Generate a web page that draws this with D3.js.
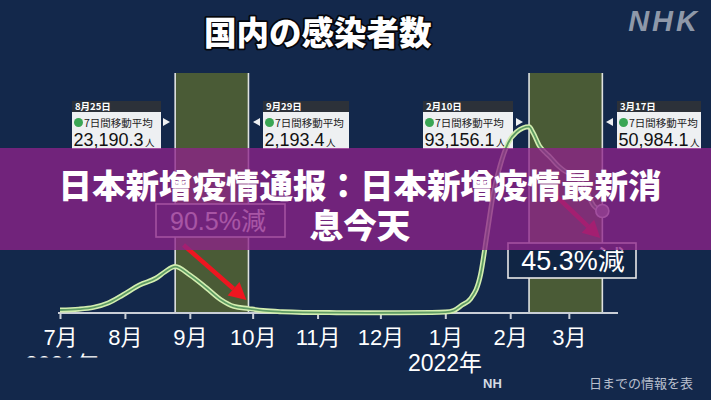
<!DOCTYPE html>
<html><head><meta charset="utf-8">
<script src="https://cdn.jsdelivr.net/npm/d3@7"></script>
<style>html,body{margin:0;padding:0;background:#13284b;}svg{display:block;}</style>
</head><body>
<script>
// ---------- DATA ----------
const dates  = ["2021-07-01","2021-07-10","2021-07-17","2021-07-24","2021-07-31","2021-08-08","2021-08-16","2021-08-20","2021-08-25",
                "2021-09-01","2021-09-09","2021-09-16","2021-09-22","2021-09-29","2021-10-06","2021-10-15","2021-10-25",
                "2021-11-10","2021-11-25","2021-12-10","2021-12-25","2022-01-01","2022-01-05","2022-01-09","2022-01-13",
                "2022-01-18","2022-01-21","2022-01-24","2022-01-27","2022-01-31","2022-02-04","2022-02-10","2022-02-12",
                "2022-02-15","2022-02-18","2022-02-20","2022-02-24","2022-02-27","2022-03-02","2022-03-07","2022-03-10",
                "2022-03-13","2022-03-17"];
const values = [1500,1900,2800,5000,9000,14000,17500,20500,23190,
                19000,12500,6500,3300,2193,1200,600,300,
                170,110,130,250,450,1200,4000,7000,
                20000,40000,60000,73000,85000,90500,93156,90000,
                83500,80000,78000,73500,71000,69500,65500,59500,
                53500,50984];
const monthTicks  = ["2021-07-01","2021-08-01","2021-09-01","2021-10-01","2021-11-01","2021-12-01","2022-01-01","2022-02-01","2022-03-01"];
const monthLabels = ["7月","8月","9月","10月","11月","12月","1月","2月","3月"];
const bandStarts = ["2021-08-25","2022-02-10"];
const bandEnds   = ["2021-09-29","2022-03-17"];
const calloutDates  = ["8月25日","9月29日","2月10日","3月17日"];
const calloutValues = ["23,190.3","2,193.4","93,156.1","50,984.1"];
const calloutLabel  = "7日間移動平均";
const dropLabels = ["90.5%減","45.3%減"];
const titleText = "国内の感染者数";
const bannerLines = ["日本新增疫情通报：日本新增疫情最新消","息今天"];
const yearLabels = ["2021年","2022年"];

// ---------- LAYOUT ----------
const W = 711, H = 400;
const parse = d3.timeParse("%Y-%m-%d");
const svg = d3.select("body").append("svg").attr("width", W).attr("height", H);
svg.append("rect").attr("width", W).attr("height", H).attr("fill", "#13284b");

const x = d3.scaleTime().domain([parse("2021-07-01"), parse("2022-03-24")]).range([60, 617]);
const y = d3.scaleLinear().domain([0, 120000]).range([313, 73]);
const sans = "'Liberation Sans','Noto Sans CJK JP',sans-serif";
const cjk = "'Noto Sans CJK JP','Noto Sans CJK SC',sans-serif";

// title
svg.append("text").attr("x", 204).attr("y", 45).text(titleText)
  .attr("font-family", cjk).attr("font-weight", 900).attr("font-size", 32.5)
  .attr("fill", "#fff").attr("stroke", "#05070c").attr("stroke-width", 3.5)
  .attr("paint-order", "stroke").attr("stroke-linejoin", "round");
// NHK logo
svg.append("text").attr("x", 700).attr("y", 31).attr("text-anchor", "end").text("NHK")
  .attr("font-family", sans).attr("font-weight", 700).attr("font-style", "italic")
  .attr("font-size", 29).attr("letter-spacing", 3).attr("fill", "#8e98a9");

// bands
bandStarts.forEach((s, i) => {
  const x0 = x(parse(s)), x1 = x(parse(bandEnds[i]));
  svg.append("rect").attr("x", x0).attr("y", 73).attr("width", x1 - x0).attr("height", 313 - 73)
    .attr("fill", "#4a5b36");
  [x0, x1].forEach(xx => svg.append("line").attr("x1", xx).attr("x2", xx).attr("y1", 73).attr("y2", 313)
    .attr("stroke", "#dfe2e0").attr("stroke-width", 1.6));
});

// callouts
const boxes = [{L:72,w:89,dir:1,px:163},{L:263,w:86,dir:-1,px:260},{L:423,w:90,dir:1,px:516},{L:617,w:84,dir:-1,px:613}];
boxes.forEach((b, i) => {
  const g = svg.append("g");
  g.append("rect").attr("x", b.L).attr("y", 101).attr("width", b.w).attr("height", 11).attr("fill", "#2c3139");
  g.append("text").attr("x", b.L + 3).attr("y", 110).text(calloutDates[i])
    .attr("font-family", cjk).attr("font-weight", 700).attr("font-size", 9.5).attr("fill", "#fff");
  g.append("rect").attr("x", b.L).attr("y", 112).attr("width", b.w).attr("height", 37).attr("fill", "#eef0f2");
  g.append("circle").attr("cx", b.L + 6.5).attr("cy", 122.5).attr("r", 4.5).attr("fill", "#3aa655");
  g.append("text").attr("x", b.L + 12).attr("y", 126.5).text(calloutLabel)
    .attr("font-family", cjk).attr("font-size", 10.5).attr("fill", "#222");
  const t = g.append("text").attr("x", b.L + 1.5).attr("y", 146)
    .attr("font-family", sans).attr("fill", "#111");
  t.append("tspan").attr("font-size", 18).text(calloutValues[i]);
  t.append("tspan").attr("font-size", 9.5).attr("font-family", cjk).attr("dx", 1.5).text("人");
  const p = b.px;
  g.append("path").attr("d", b.dir > 0
      ? `M${p},118 L${p + 7},122 L${p},126 Z`
      : `M${p},118 L${p - 7},122 L${p},126 Z`).attr("fill", "#eef0f2");
});

// axis
const ax = svg.append("g").attr("transform", "translate(0,313)")
  .call(d3.axisBottom(x).tickValues(monthTicks.map(parse)).tickSize(6).tickSizeOuter(0)
        .tickFormat((d, i) => monthLabels[i]));
ax.select(".domain").attr("stroke", "#c9ced6").attr("stroke-width", 2.2).attr("d", "M58,0H618");
ax.selectAll(".tick line").attr("stroke", "#c9ced6").attr("stroke-width", 2);
ax.selectAll(".tick text").attr("y", 32).attr("dy", 0).attr("fill", "#fff")
  .attr("font-family", sans).attr("font-size", 22);

// year labels
const clip = svg.append("clipPath").attr("id", "yc");
clip.append("rect").attr("x", 0).attr("y", 0).attr("width", 200).attr("height", 357.5);
svg.append("text").attr("x", 25).attr("y", 373).attr("clip-path", "url(#yc)").text(yearLabels[0])
  .attr("font-family", sans).attr("font-size", 23).attr("fill", "#fff");
svg.append("text").attr("x", 445).attr("y", 371).attr("text-anchor", "middle").text(yearLabels[1])
  .attr("font-family", sans).attr("font-size", 23).attr("fill", "#fff");

// line
const pts = dates.map((d, i) => [parse(d), values[i]]);
const line = d3.line().x(d => x(d[0])).y(d => y(d[1])).curve(d3.curveMonotoneX);
svg.append("path").attr("d", line(pts)).attr("fill", "none").attr("stroke", "#d3eeb0").attr("stroke-width", 5).attr("stroke-linejoin", "round");
svg.append("path").attr("d", line(pts)).attr("fill", "none").attr("stroke", "#5f9c63").attr("stroke-width", 1.8).attr("stroke-linejoin", "round");
// end point marker
const last = pts[pts.length - 1];
svg.append("circle").attr("cx", x(last[0])).attr("cy", y(last[1])).attr("r", 6.5)
  .attr("fill", "#8b8f98").attr("stroke", "#e6e6e6").attr("stroke-width", 1.6);

// red arrows
function arrow(x0, y0, x1, y1) {
  const a = Math.atan2(y1 - y0, x1 - x0), hl = 17, hw = 9;
  const bx = x1 - hl * Math.cos(a), by = y1 - hl * Math.sin(a);
  svg.append("line").attr("x1", x0).attr("y1", y0).attr("x2", bx).attr("y2", by)
    .attr("stroke", "#ee1620").attr("stroke-width", 4.5);
  const nx = -Math.sin(a) * hw, ny = Math.cos(a) * hw;
  svg.append("path").attr("d", `M${x1},${y1} L${bx + nx},${by + ny} L${bx - nx},${by - ny} Z`).attr("fill", "#ee1620");
}
arrow(x(parse("2021-08-29")), y(34000), x(parse("2021-09-28")), y(6500));
arrow(x(parse("2022-02-21")), y(60500), x(parse("2022-03-16")), y(37500));

// drop boxes
svg.append("rect").attr("x", 156).attr("y", 204).attr("width", 129).attr("height", 33)
  .attr("fill", "#13284b").attr("stroke", "#e8e8e8").attr("stroke-width", 1.6);
svg.append("text").attr("x", 218).attr("y", 230).attr("text-anchor", "middle").text(dropLabels[0])
  .attr("font-family", sans).attr("font-size", 25).attr("fill", "#fff");
svg.append("rect").attr("x", 508).attr("y", 243).attr("width", 128).attr("height", 35)
  .attr("fill", "#102544").attr("stroke", "#e8e8e8").attr("stroke-width", 1.6);
svg.append("text").attr("x", 573).attr("y", 270).attr("text-anchor", "middle").text(dropLabels[1])
  .attr("font-family", sans).attr("font-size", 27).attr("fill", "#fff");

// footer
svg.append("text").attr("x", 483).attr("y", 388).text("NH")
  .attr("font-family", sans).attr("font-weight", 700).attr("font-size", 13).attr("fill", "#d5dae3");
svg.append("text").attr("x", 589).attr("y", 388).text("日までの情報を表")
  .attr("font-family", cjk).attr("font-size", 13).attr("fill", "#d5dae3").attr("opacity", 0.85);

// banner overlay
svg.append("rect").attr("x", 0).attr("y", 148).attr("width", W).attr("height", 102)
  .attr("fill", "rgb(142,34,138)").attr("opacity", 0.77);
bannerLines.forEach((t, i) => {
  svg.append("text").attr("x", 360).attr("y", 198 + i * 40).attr("text-anchor", "middle").text(t)
    .attr("font-family", cjk).attr("font-weight", 900).attr("font-size", 33.5).attr("fill", "#fff");
});
</script>
</body></html>
